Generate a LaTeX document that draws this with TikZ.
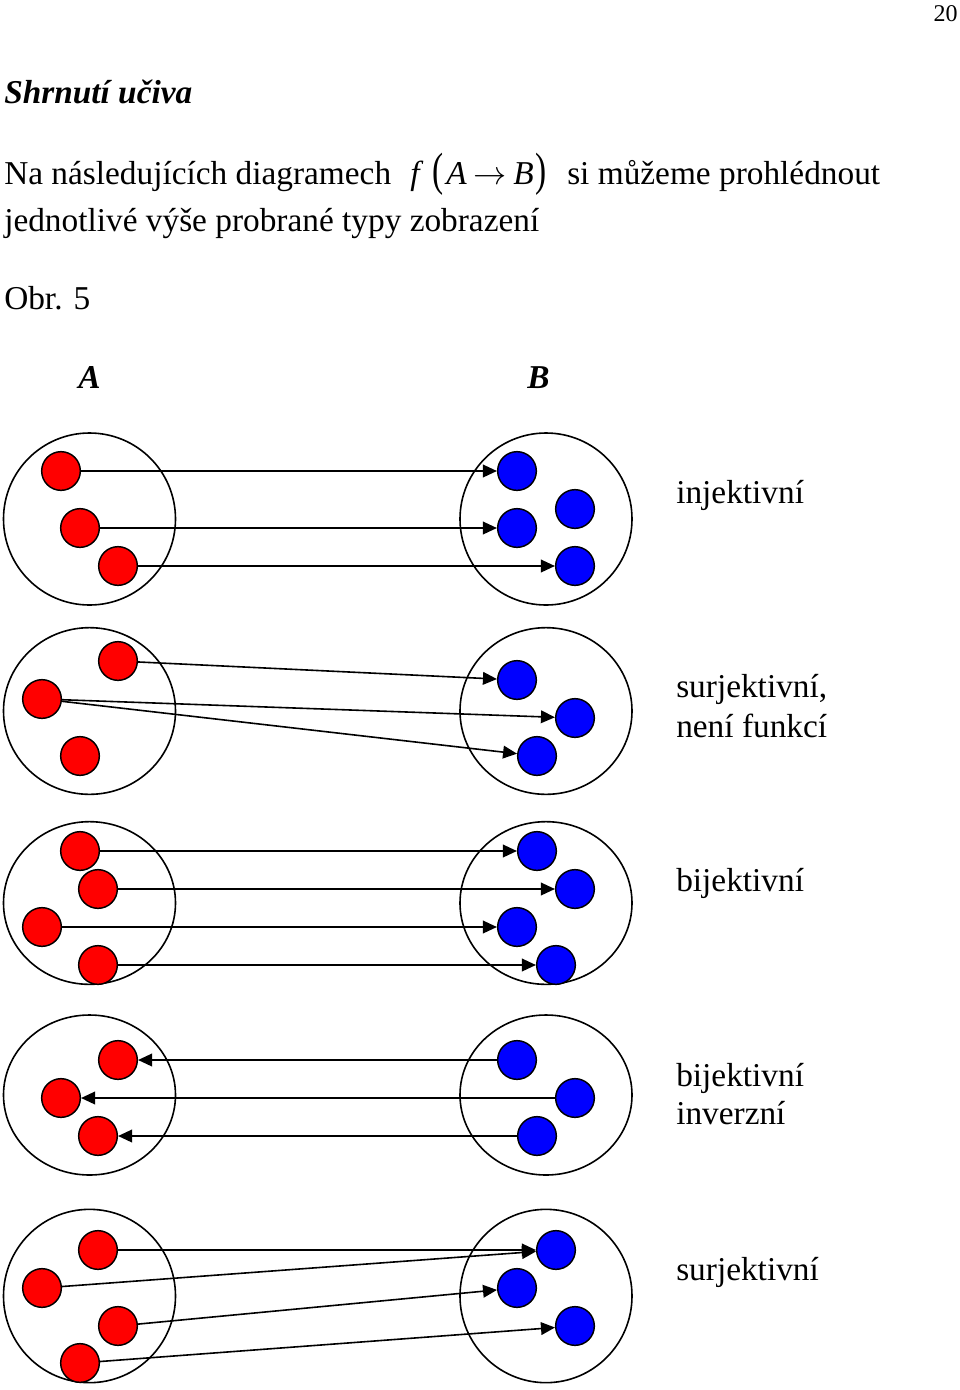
\documentclass[tikz,border=0pt]{standalone}
\usepackage{graphicx}
\usepackage{fontspec}
\setmainfont{Liberation Serif}
\usetikzlibrary{arrows.meta,shapes.geometric}
\newcommand{\bigpar}[1]{\raisebox{-1pt}{\scalebox{1}[1.4]{#1}}}
\begin{document}
\begin{tikzpicture}[x=0.75pt,y=-0.75pt,
  rdot/.style={circle,draw=black,line width=1.1pt,fill=red,minimum size=29pt,inner sep=0pt},
  bdot/.style={circle,draw=black,line width=1.1pt,fill=blue,minimum size=29pt,inner sep=0pt},
  setE/.style={ellipse,draw=black,line width=1.2pt,minimum width=129pt,inner sep=0pt},
  map/.style={line width=1.2pt,-{Triangle[length=10.5pt,width=9.5pt]}},
  txt/.style={anchor=base west,inner sep=0pt,font=\fontsize{25}{25}\selectfont},
  bi/.style={txt,font=\fontsize{25}{25}\selectfont\bfseries\itshape},
]
\useasboundingbox (0,0) rectangle (960,1390);
% header
\node[anchor=base east,inner sep=0pt,font=\fontsize{18}{20}\selectfont] (page) at (958,21) {20};
\node[bi] (title) at (4,103) {Shrnutí učiva};
\node[txt] (l1a) at (4,184) {Na následujících diagramech};
\node[txt] (l1b) at (410,184) {\textit{f}\hspace{7pt}\bigpar{(}\hspace{2pt}\textit{A}\hspace{5pt}$\rightarrow$\hspace{5pt}\textit{B}\hspace{1pt}\bigpar{)}};
\node[txt] (l1c) at (567,184) {si můžeme prohlédnout};
\node[txt] (l2) at (4,231) {jednotlivé výše probrané typy zobrazení};
\node[txt] (obr) at (4,309) {Obr. 5};
\node[bi] (hA) at (78,388) {A};
\node[bi] (hB) at (527,388) {B};

% ---- row 1: injektivni
\node[setE,minimum height=129pt] (A1) at (89.5,519) {};
\node[setE,minimum height=129pt] (B1) at (546,519) {};
\node[rdot] (a11) at (61,471) {};
\node[rdot] (a12) at (80,528) {};
\node[rdot] (a13) at (118,566) {};
\node[bdot] (b11) at (517,471) {};
\node[bdot] (b12) at (575,509) {};
\node[bdot] (b13) at (517,528) {};
\node[bdot] (b14) at (575,566) {};
\draw[map] (a11) -- (b11);
\draw[map] (a12) -- (b13);
\draw[map] (a13) -- (b14);
\node[txt] (t1) at (676,503) {injektivní};

% ---- row 2: surjektivni, neni funkci
\node[setE,minimum height=125pt] (A2) at (89.5,711) {};
\node[setE,minimum height=125pt] (B2) at (546,711) {};
\node[rdot] (a21) at (118,661) {};
\node[rdot] (a22) at (42,699) {};
\node[rdot] (a23) at (80,756) {};
\node[bdot] (b21) at (517,680) {};
\node[bdot] (b22) at (575,718) {};
\node[bdot] (b23) at (537,756) {};
\draw[map] (a21) -- (b21);
\draw[map] (a22) -- (b22);
\draw[map] (a22) -- (b23);
\node[txt] (t2a) at (676,697) {surjektivní,};
\node[txt] (t2b) at (676,737) {není funkcí};

% ---- row 3: bijektivni
\node[setE,minimum height=122pt] (A3) at (89.5,903) {};
\node[setE,minimum height=122pt] (B3) at (546,903) {};
\node[rdot] (a31) at (80,851) {};
\node[rdot] (a32) at (98,889) {};
\node[rdot] (a33) at (42,927) {};
\node[rdot] (a34) at (98,965) {};
\node[bdot] (b31) at (537,851) {};
\node[bdot] (b32) at (575,889) {};
\node[bdot] (b33) at (517,927) {};
\node[bdot] (b34) at (556,965) {};
\draw[map] (a31) -- (b31);
\draw[map] (a32) -- (b32);
\draw[map] (a33) -- (b33);
\draw[map] (a34) -- (b34);
\node[txt] (t3) at (676,891) {bijektivní};

% ---- row 4: bijektivni inverzni
\node[setE,minimum height=120pt] (A4) at (89.5,1095) {};
\node[setE,minimum height=120pt] (B4) at (546,1095) {};
\node[rdot] (a41) at (118,1060) {};
\node[rdot] (a42) at (61,1098) {};
\node[rdot] (a43) at (98,1136) {};
\node[bdot] (b41) at (517,1060) {};
\node[bdot] (b42) at (575,1098) {};
\node[bdot] (b43) at (537,1136) {};
\draw[map] (b41) -- (a41);
\draw[map] (b42) -- (a42);
\draw[map] (b43) -- (a43);
\node[txt] (t4a) at (676,1086) {bijektivní};
\node[txt] (t4b) at (676,1124) {inverzní};

% ---- row 5: surjektivni
\node[setE,minimum height=130pt] (A5) at (89.5,1296) {};
\node[setE,minimum height=130pt] (B5) at (546,1296) {};
\node[rdot] (a51) at (98,1250) {};
\node[rdot] (a52) at (42,1288) {};
\node[rdot] (a53) at (118,1326) {};
\node[rdot] (a54) at (80,1363) {};
\node[bdot] (b51) at (556,1250) {};
\node[bdot] (b52) at (517,1288) {};
\node[bdot] (b53) at (575,1326) {};
\draw[map] (a51) -- (b51);
\draw[map] (a52) -- (b51);
\draw[map] (a53) -- (b52);
\draw[map] (a54) -- (b53);
\node[txt] (t5) at (676,1280) {surjektivní};
\end{tikzpicture}
\end{document}
